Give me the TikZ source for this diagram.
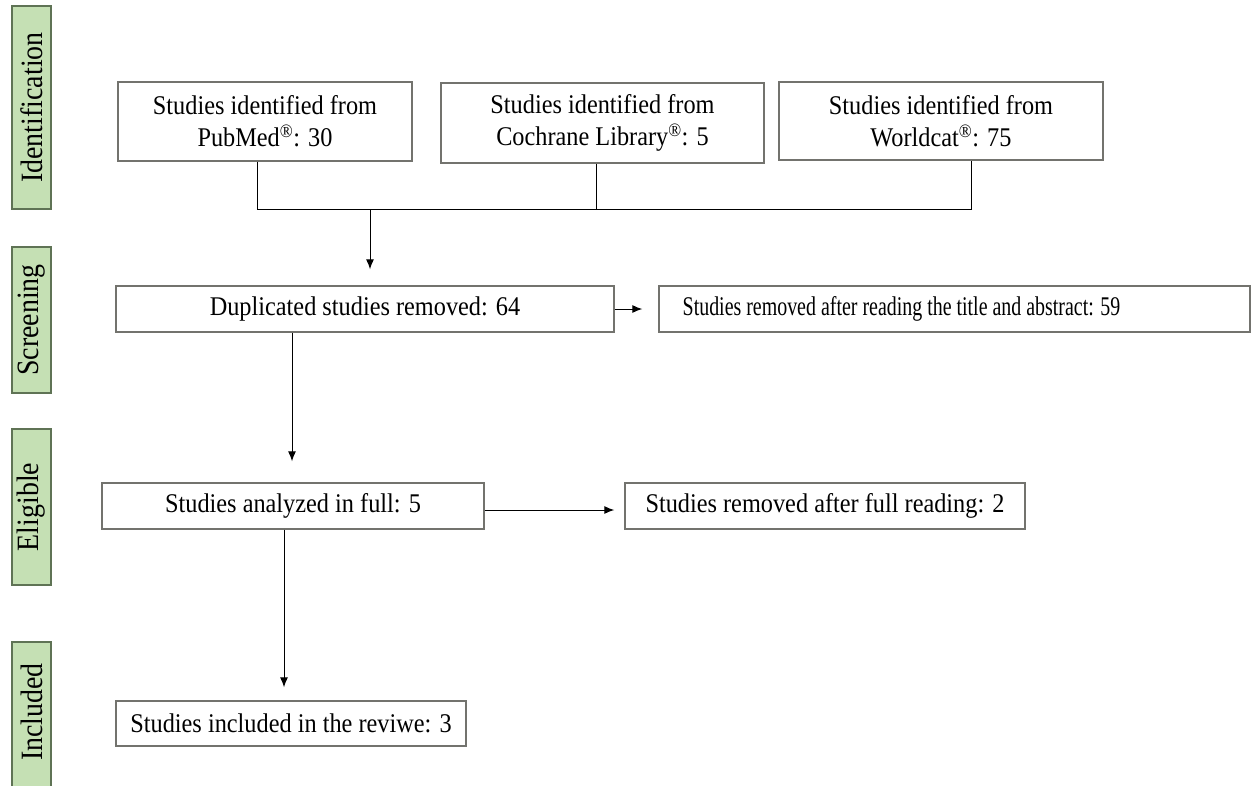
\documentclass[tikz,border=0pt]{standalone}
\usepackage{fontspec}
\setmainfont{Liberation Serif}[FakeStretch=0.9]
\usetikzlibrary{arrows.meta}
\definecolor{barfill}{RGB}{197,224,180}
\definecolor{bardraw}{RGB}{95,115,85}
\definecolor{boxdraw}{RGB}{115,115,110}
\tikzset{
  box/.style={draw=boxdraw, line width=1.4pt, fill=white, inner sep=0pt, align=center,
    font=\fontsize{27}{32}\selectfont},
  bar/.style={draw=bardraw, line width=1.2pt, fill=barfill},
  barlabel/.style={rotate=90, font=\fontsize{31}{33}\selectfont},
  conn/.style={draw=black, line width=1pt},
  arr/.style={conn, -{Latex[length=10pt,width=8pt]}},
}
\begin{document}
\begin{tikzpicture}[x=1pt,y=-1pt]
\useasboundingbox (0,0) rectangle (1260,785);
% side bars
\draw[bar] (12,6) rectangle (51,209);
\node[barlabel] (lid) at (31.5,107.5) {Identification};
\draw[bar] (12,247) rectangle (51,393);
\node[barlabel] (lsc) at (31.5,320) {Screening};
\draw[bar] (12,429) rectangle (51,585);
\node[barlabel] (lel) at (31.5,507) {Eligible};
\draw[bar] (12,642) rectangle (51,790);
\node[barlabel] (lin) at (31.5,712) {Included};
% boxes
\node[box, minimum width=294pt, minimum height=79pt] (pub) at (265,121.5)
  {Studies identified from\\PubMed\textsuperscript{\textregistered}: 30};
\node[box, minimum width=323pt, minimum height=80pt] (coc) at (602.5,123)
  {Studies identified from\\Cochrane Library\textsuperscript{\textregistered}: 5};
\node[box, minimum width=324pt, minimum height=78pt] (wor) at (941,121)
  {Studies identified from\\Worldcat\textsuperscript{\textregistered}: 75};
\node[box, minimum width=498pt, minimum height=46pt] (dup) at (365,309)
  {Duplicated studies removed: 64};
\node[box, minimum width=591pt, minimum height=46pt] (tit) at (954.5,309)
  {\scalebox{0.82}[1]{Studies removed after reading the title and abstract: 59}\hspace{106pt}};
\node[box, minimum width=382pt, minimum height=46pt] (ana) at (293,506)
  {Studies analyzed in full: 5};
\node[box, minimum width=400pt, minimum height=46pt] (ful) at (825,506)
  {Studies removed after full reading: 2};
\node[box, minimum width=350pt, minimum height=45pt] (inc) at (291,723.5)
  {Studies included in the reviwe: 3};
% connectors
\coordinate (jl) at (257,209);
\coordinate (jr) at (971,209);
\coordinate (jm) at (370,209);
\coordinate (cs) at ([xshift=-6.5pt]coc.south);
\draw[conn] ([xshift=-8pt]pub.south) -- (jl) -- (jr) -- ([xshift=30pt]wor.south);
\draw[conn] (cs) -- (cs |- jl);
\draw[arr, shorten >=16pt] (jm) -- (jm |- dup.north);
\draw[arr, shorten >=16pt] (dup.east) -- (tit.west);
\draw[arr, shorten >=21pt] ([xshift=-73pt]dup.south) -- ([xshift=-73pt]dup.south |- ana.north);
\draw[arr, shorten >=10pt] ([yshift=-4pt]ana.east) -- ([yshift=-4pt]ana.east -| ful.west);
\draw[arr, shorten >=13pt] ([xshift=-9pt]ana.south) -- ([xshift=-9pt]ana.south |- inc.north);
\end{tikzpicture}
\end{document}
